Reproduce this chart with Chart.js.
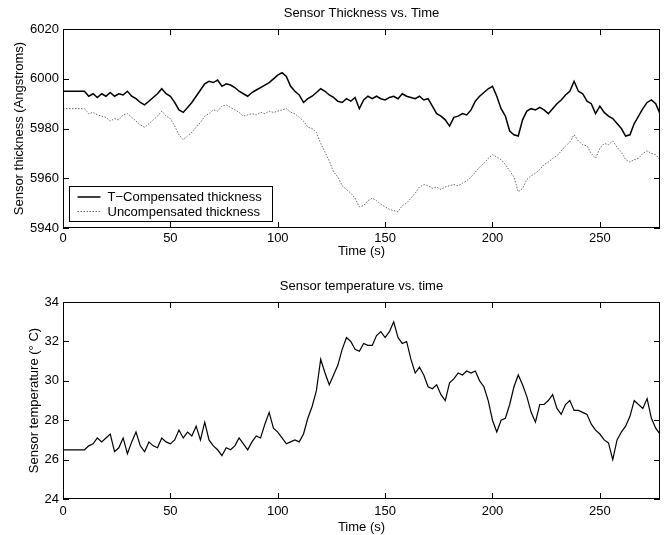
<!DOCTYPE html>
<html><head><meta charset="utf-8">
<script src="https://cdn.jsdelivr.net/npm/chart.js@4/dist/chart.umd.min.js"></script>
<style>
html,body{margin:0;padding:0;background:#fff;}
#wrap{position:relative;width:664px;height:535px;overflow:hidden;}
canvas{position:absolute;left:0;}
</style></head><body>
<div id="wrap">
<canvas id="c1" width="664" height="265" style="top:0px"></canvas>
<canvas id="c2" width="664" height="270" style="top:265px"></canvas>
</div>
<script>
// ---- data ----
const time = [0, 10, 12, 14, 16, 18, 20, 22, 24, 26,
  28, 30, 32, 34, 36, 38, 40, 42, 44, 46,
  48, 50, 52, 54, 56, 58, 60, 62, 64, 66,
  68, 70, 72, 74, 76, 78, 80, 82, 84, 86,
  88, 90, 92, 94, 96, 98, 100, 102, 104, 106,
  108, 110, 112, 114, 116, 118, 120, 122, 124, 126,
  128, 130, 132, 134, 136, 138, 140, 142, 144, 146,
  148, 150, 152, 154, 156, 158, 160, 162, 164, 166,
  168, 170, 172, 174, 176, 178, 180, 182, 184, 186,
  188, 190, 192, 194, 196, 198, 200, 202, 204, 206,
  208, 210, 212, 214, 216, 218, 220, 222, 224, 226,
  228, 230, 232, 234, 236, 238, 240, 242, 244, 246,
  248, 250, 252, 254, 256, 258, 260, 262, 264, 266,
  268, 270, 272, 274, 276, 278];

const thicknessCompensated = [5995, 5995, 5993, 5994, 5992.5, 5994, 5993, 5994.5, 5993, 5994,
  5993.5, 5995, 5993, 5992, 5990.5, 5989.5, 5991, 5992.5, 5994, 5996,
  5994, 5993, 5990.5, 5987.5, 5986.5, 5988.5, 5990.5, 5993, 5995.5, 5998,
  5999, 5998.5, 5999.5, 5997, 5998, 5997.5, 5996.5, 5995, 5994, 5993,
  5994.5, 5995.5, 5996.5, 5997.5, 5998.5, 6000, 6001.5, 6002.5, 6001, 5997,
  5995, 5993.5, 5990.5, 5992, 5993, 5994.5, 5996, 5995, 5993.5, 5992.5,
  5991, 5990.5, 5992, 5991, 5992.5, 5988, 5991.5, 5993, 5992, 5993,
  5992, 5991.5, 5992.5, 5993, 5992, 5994, 5993, 5992.5, 5992, 5993,
  5991.5, 5992, 5989, 5986, 5985, 5983.5, 5981, 5984.5, 5985, 5986,
  5985.5, 5987.5, 5991, 5993, 5994.5, 5996, 5997, 5993, 5988, 5985,
  5979, 5977.5, 5977, 5983.5, 5987, 5988, 5987.5, 5988.5, 5987.5, 5986,
  5988, 5990, 5991.5, 5993.5, 5995, 5999, 5995, 5994, 5991, 5990,
  5986, 5989, 5986.5, 5985, 5984, 5982, 5980, 5977, 5977.5, 5982,
  5985, 5988, 5990.5, 5991.5, 5990, 5986];

const thicknessUncompensated = [5988, 5988, 5986, 5986.5, 5985.5, 5985, 5984.5, 5983, 5984, 5983.5,
  5985.5, 5986, 5984.5, 5983, 5981.5, 5980.5, 5982, 5983.5, 5985, 5987,
  5985, 5984, 5981, 5977.5, 5975.5, 5977, 5978.5, 5980.5, 5982.5, 5985,
  5986, 5987.5, 5987, 5989, 5989.5, 5988.5, 5987.5, 5986.5, 5985, 5985.5,
  5986, 5985.5, 5986.5, 5986, 5987, 5986.5, 5987, 5987.5, 5988, 5986.5,
  5986, 5984.5, 5983, 5980.5, 5980, 5978.5, 5974, 5970.5, 5967, 5962.5,
  5960.5, 5957, 5955.5, 5954, 5952, 5948.5, 5949, 5951, 5952, 5951,
  5949.5, 5948.5, 5947.5, 5947, 5946.5, 5949, 5950, 5952, 5954, 5956.5,
  5957.5, 5957, 5956, 5956.5, 5955.5, 5956.5, 5957, 5957.5, 5957, 5958,
  5959, 5960.5, 5962.5, 5964.5, 5966, 5968, 5969.5, 5968.5, 5967.5, 5965.5,
  5963, 5960.5, 5954.5, 5956, 5959.5, 5961, 5962, 5963.5, 5965.5, 5966.5,
  5968, 5969, 5971, 5973, 5974.5, 5977.5, 5975, 5973.5, 5973, 5970,
  5968, 5972, 5974, 5973.5, 5975, 5972.5, 5970.5, 5967.5, 5966.5, 5967.5,
  5968, 5970, 5971, 5970, 5969.5, 5967.5];

const temperature = [26.5, 26.5, 26.7, 26.8, 27.1, 26.9, 27.1, 27.3, 26.4, 26.6,
  27.1, 26.3, 26.9, 27.4, 26.7, 26.4, 26.9, 26.7, 26.6, 27.1,
  26.9, 26.8, 27.0, 27.5, 27.1, 27.4, 27.2, 27.7, 27.0, 27.9,
  27.0, 26.7, 26.5, 26.2, 26.6, 26.5, 26.7, 27.1, 26.8, 26.5,
  26.9, 27.2, 27.1, 27.8, 28.4, 27.6, 27.4, 27.1, 26.8, 26.9,
  27.0, 26.9, 27.3, 28.1, 28.7, 29.5, 31.1, 30.4, 29.8, 30.3,
  30.8, 31.6, 32.2, 32.0, 31.6, 31.5, 31.9, 31.8, 31.8, 32.3,
  32.5, 32.2, 32.5, 33.0, 32.2, 31.9, 32.0, 31.1, 30.4, 30.7,
  30.3, 29.7, 29.6, 29.8, 29.3, 29.0, 29.9, 30.1, 30.4, 30.3,
  30.5, 30.4, 30.5, 30.0, 29.7, 29.0, 28.0, 27.4, 28.0, 28.1,
  28.8, 29.7, 30.3, 29.8, 29.2, 28.4, 27.9, 28.8, 28.8, 29.0,
  29.3, 28.6, 28.3, 28.8, 29.0, 28.5, 28.5, 28.4, 28.3, 27.8,
  27.5, 27.3, 27.0, 26.85, 26.0, 27.0, 27.4, 27.7, 28.2, 29.0,
  28.8, 28.6, 29.1, 28.1, 27.6, 27.3];

const seriesLabels = ['T\u2212Compensated thickness', 'Uncompensated thickness', 'Sensor temperature'];
const timeTicks = [0, 50, 100, 150, 200, 250];
const thicknessTicks = [5940, 5960, 5980, 6000, 6020];
const temperatureTicks = [24, 26, 28, 30, 32, 34];

// ---- styling / helpers ----
const FONT = '"Liberation Sans", Arial, Helvetica, sans-serif';
Chart.defaults.font.family = FONT;
Chart.defaults.font.size = 13;
Chart.defaults.color = '#000';

const toXY = (xs, ys) => xs.map((x, i) => ({x: x, y: ys[i]}));
const setTicks = arr => scale => { scale.ticks = arr.map(v => ({value: v})); };
const plain = v => String(v);

const boxTicks = {
  id: 'boxTicks',
  afterDatasetsDraw(chart) {
    const {ctx, chartArea: a, scales: {x, y}} = chart;
    const L = 6;
    ctx.save();
    ctx.strokeStyle = '#000';
    ctx.lineWidth = 1;
    ctx.beginPath();
    x.ticks.forEach(t => {
      const px = Math.round(x.getPixelForValue(t.value)) + 0.5;
      ctx.moveTo(px, a.bottom); ctx.lineTo(px, a.bottom - L);
      ctx.moveTo(px, a.top); ctx.lineTo(px, a.top + L);
    });
    y.ticks.forEach(t => {
      const py = Math.round(y.getPixelForValue(t.value)) + 0.5;
      ctx.moveTo(a.left, py); ctx.lineTo(a.left + L, py);
      ctx.moveTo(a.right, py); ctx.lineTo(a.right - L, py);
    });
    ctx.stroke();
    ctx.strokeRect(Math.round(a.left) + 0.5, Math.round(a.top) + 0.5,
      Math.round(a.right - a.left) - 1, Math.round(a.bottom - a.top) - 1);
    ctx.restore();
  }
};

const legendBox = {
  id: 'legendBox',
  afterDraw(chart, args, opts) {
    if (!opts || !opts.show) return;
    const {ctx, chartArea: a} = chart;
    const x0 = Math.round(a.left) + 6.5, y0 = Math.round(a.bottom) - 41.5, w = 203, h = 35;
    ctx.save();
    ctx.fillStyle = '#fff';
    ctx.fillRect(x0, y0, w, h);
    ctx.strokeStyle = '#000';
    ctx.lineWidth = 1;
    ctx.strokeRect(x0, y0, w, h);
    ctx.font = '13px ' + FONT;
    ctx.textBaseline = 'middle';
    ctx.textAlign = 'left';
    chart.data.datasets.forEach((ds, i) => {
      const cy = y0 + 10.5 + i * 14.5;
      ctx.strokeStyle = ds.borderColor;
      ctx.lineWidth = ds.borderWidth;
      ctx.setLineDash(ds.borderDash || []);
      ctx.beginPath();
      ctx.moveTo(x0 + 8, cy); ctx.lineTo(x0 + 31, cy);
      ctx.stroke();
      ctx.setLineDash([]);
      ctx.fillStyle = '#000';
      ctx.fillText(ds.label, x0 + 38, cy + 0.5);
    });
    ctx.restore();
  }
};

function xScale(height, tickPad, titleBottomPad) {
  return {
    type: 'linear', min: 0, max: 278,
    afterBuildTicks: setTicks(timeTicks),
    afterFit: s => { s.height = height; },
    grid: {display: false, drawTicks: false},
    border: {display: false},
    ticks: {padding: tickPad, maxRotation: 0, color: '#000', callback: plain},
    title: {display: true, text: 'Time (s)', color: '#000', padding: {top: 0, bottom: titleBottomPad}}
  };
}
function yScale(min, max, ticks, title, titlePad) {
  return {
    type: 'linear', min: min, max: max,
    afterBuildTicks: setTicks(ticks),
    afterFit: s => { s.width = 63; },
    grid: {display: false, drawTicks: false},
    border: {display: false},
    ticks: {padding: 4, color: '#000', callback: plain},
    title: {display: true, text: title, color: '#000', padding: {top: titlePad, bottom: 0}}
  };
}

new Chart(document.getElementById('c1'), {
  type: 'line',
  data: {
    datasets: [
      {label: seriesLabels[0], data: toXY(time, thicknessCompensated), borderColor: '#000', borderWidth: 1.5, pointRadius: 0, tension: 0, fill: false},
      {label: seriesLabels[1], data: toXY(time, thicknessUncompensated), borderColor: '#6a6a6a', borderWidth: 1, borderDash: [1.5, 1.5], pointRadius: 0, tension: 0, fill: false}
    ]
  },
  options: {
    responsive: false, animation: false, devicePixelRatio: 1,
    layout: {padding: {left: 0, right: 4, top: 0, bottom: 0}},
    plugins: {
      legend: {display: false},
      tooltip: {enabled: false},
      title: {display: true, text: 'Sensor Thickness vs. Time', fullSize: false, color: '#000',
        font: {size: 13, weight: 'normal'}, padding: {top: 6, bottom: 7.5}},
      legendBox: {show: true}
    },
    scales: {
      x: xScale(37, 3, 6),
      y: yScale(5940, 6020, thicknessTicks, 'Sensor thickness (Angstroms)', 12)
    }
  },
  plugins: [boxTicks, legendBox]
});

new Chart(document.getElementById('c2'), {
  type: 'line',
  data: {
    datasets: [
      {label: seriesLabels[2], data: toXY(time, temperature), borderColor: '#000', borderWidth: 1.2, pointRadius: 0, tension: 0, fill: false}
    ]
  },
  options: {
    responsive: false, animation: false, devicePixelRatio: 1,
    layout: {padding: {left: 0, right: 4, top: 0, bottom: 0}},
    plugins: {
      legend: {display: false},
      tooltip: {enabled: false},
      title: {display: true, text: 'Sensor temperature vs. time', fullSize: false, color: '#000',
        font: {size: 13, weight: 'normal'}, padding: {top: 14, bottom: 7.5}},
      legendBox: {show: false}
    },
    scales: {
      x: xScale(36, 5, 0),
      y: yScale(24, 34, temperatureTicks, 'Sensor temperature (\u00b0 C)', 27)
    }
  },
  plugins: [boxTicks, legendBox]
});
</script>
</body></html>
